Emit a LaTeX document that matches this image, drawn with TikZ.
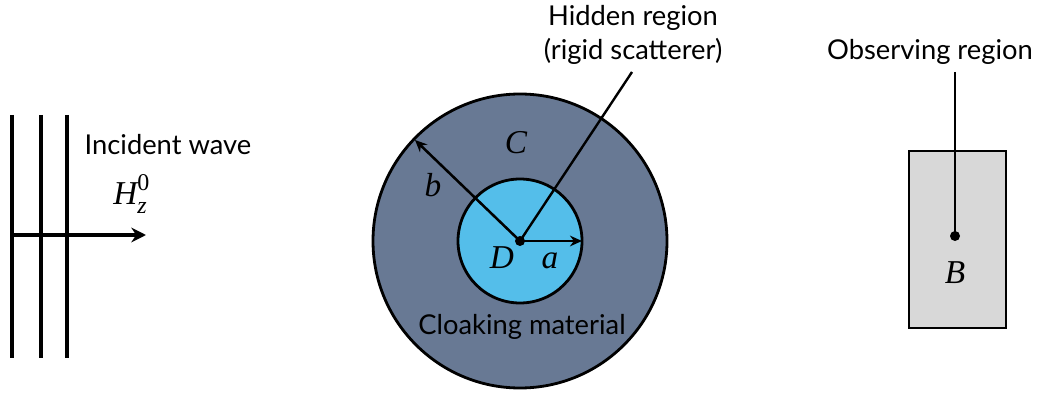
\documentclass[tikz,border=0pt]{standalone}
\usepackage{fontspec}
\setmainfont{Lato}
\newfontfamily\tmfont{Liberation Serif}
\usetikzlibrary{arrows.meta}
\definecolor{cloak}{RGB}{104,121,148}
\definecolor{hidden}{RGB}{84,190,234}
\definecolor{obs}{RGB}{216,216,216}
\tikzset{
  lbl/.style={font=\fontsize{20.5}{25}\selectfont, inner sep=0pt, align=center},
  mlbl/.style={font=\fontsize{25}{29}\selectfont\tmfont\itshape, inner sep=0pt},
  ln/.style={line width=2.8pt},
  arr/.style={line width=2.4pt, -{Stealth[length=11pt,width=11pt]}},
  sarr/.style={line width=1.9pt, -{Stealth[length=9pt,width=8pt]}},
  ring/.style={line width=2.1pt},
  ptr/.style={line width=1.8pt},
}
\begin{document}
\begin{tikzpicture}[x=0.75pt,y=-0.75pt]
\useasboundingbox (0,0) rectangle (1041,399);
% incident wave
\draw[ln] (12,115) -- (12,358);
\draw[ln] (41,115) -- (41,358);
\draw[ln] (67,115) -- (67,358);
\coordinate (w0) at (12,235);
\coordinate (w1) at (146,235);
\draw[arr] (w0) -- (w1);
\node[lbl] (inc) at (168,145) {Incident wave};
\node[mlbl, anchor=base west] (hz) at (113,204) {H\raisebox{-7pt}{\fontsize{18}{17}\selectfont\begin{tabular}[b]{@{}l@{}}\upshape 0\\z\end{tabular}}};
% cloak
\coordinate (ctr) at (520,241);
\draw[ring, fill=cloak] (ctr) circle[radius=147];
\draw[ring, fill=hidden] (ctr) circle[radius=62];
\coordinate (bt) at (415,140);
\coordinate (at) at (582,241);
\coordinate (ht) at (632,72);
\draw[sarr] (ctr) -- (bt);
\draw[sarr] (ctr) -- (at);
\draw[ptr] (ctr) -- (ht);
\fill (ctr) circle[radius=5];
\node[mlbl] (C) at (516,143) {C};
\node[mlbl] (b) at (433,185) {b};
\node[mlbl] (D) at (502,258) {D};
\node[mlbl] (a) at (550,261) {a};
\node[lbl] (cm) at (522,327) {Cloaking material};
\node[lbl] (hr) at (633,35) {Hidden region\\(rigid scatterer)};
% observing region
\node[draw, line width=2.1pt, fill=obs, minimum width=97*0.75pt, minimum height=177*0.75pt, inner sep=0pt] (box) at (957.5,239.5) {};
\coordinate (bd) at (955,236);
\node[lbl] (or) at (930,52) {Observing region};
\draw[ptr] (955,72) -- (bd);
\fill (bd) circle[radius=5];
\node[mlbl] (B) at (955,273) {B};
\end{tikzpicture}
\end{document}
